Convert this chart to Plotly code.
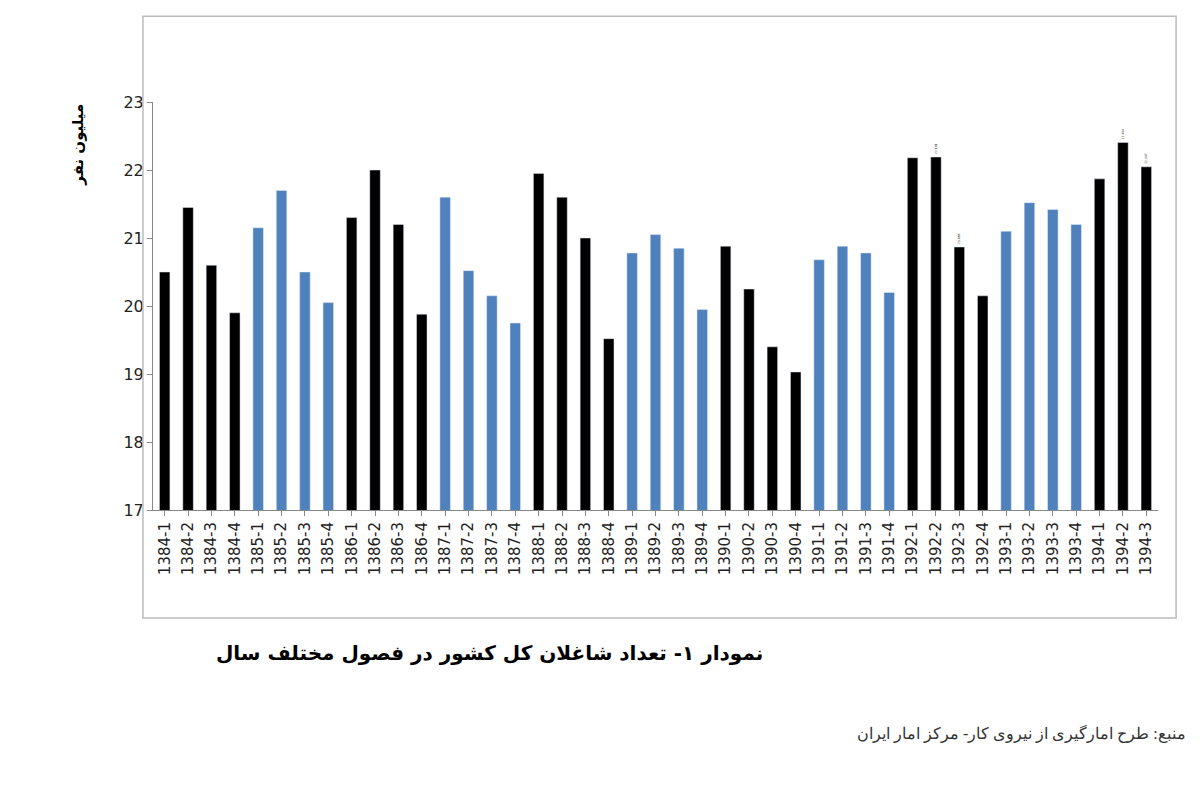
import plotly.graph_objects as go

years = list(range(1384, 1395))
categories = [f"{y}-{q}" for y in years for q in range(1, 5)][:-1]

values = [
    20.5, 21.45, 20.6, 19.9,
    21.15, 21.7, 20.5, 20.05,
    21.3, 22.0, 21.2, 19.88,
    21.6, 20.52, 20.15, 19.75,
    21.95, 21.6, 21.0, 19.52,
    20.78, 21.05, 20.85, 19.95,
    20.88, 20.25, 19.4, 19.03,
    20.68, 20.88, 20.78, 20.2,
    22.18, 22.191, 20.868, 20.15,
    21.1, 21.52, 21.42, 21.2,
    21.87, 22.404, 22.047,
]

labelled = ["1392-2", "1392-3", "1394-2", "1394-3"]

colors = ["#000000" if int(c[:4]) % 2 == 0 else "#4f81bd" for c in categories]
texts = [f"{v:.3f}" if c in labelled else "" for c, v in zip(categories, values)]

fig = go.Figure(
    go.Bar(
        x=categories,
        y=values,
        marker_color=colors,
        width=0.45,
        text=texts,
        textposition="outside",
        textangle=-90,
        textfont=dict(size=15, color="#222222"),
        cliponaxis=False,
    )
)

fig.update_layout(
    width=1200,
    height=800,
    paper_bgcolor="white",
    plot_bgcolor="white",
    margin=dict(l=145, r=50, t=94, b=298),
    showlegend=False,
    font=dict(family="DejaVu Sans", color="#222222"),
    shapes=[
        dict(type="rect", xref="paper", yref="paper",
             x0=-0.01, x1=1.018, y0=-0.265, y1=1.21,
             line=dict(color="#bbbbbb", width=1.5)),
    ],
    annotations=[
        dict(text="<b>میلیون نفر</b>", x=-0.075, y=1.0, xref="paper", yref="paper",
             textangle=-90, showarrow=False, xanchor="center", yanchor="top",
             font=dict(size=15, color="#000000", family="DejaVu Sans")),
        dict(text="<b>نمودار ۱- تعداد شاغلان کل کشور در فصول مختلف سال</b>",
             x=0.335, y=-0.385, xref="paper", yref="paper", showarrow=False,
             font=dict(size=20, color="#000000", family="DejaVu Sans")),
        dict(text="منبع: طرح امارگیری از نیروی کار- مرکز امار ایران",
             x=1.03, y=-0.575, xref="paper", yref="paper", showarrow=False,
             xanchor="right", font=dict(size=16, color="#333333",
                                       family="Liberation Serif")),
    ],
)

fig.update_yaxes(range=[17, 23], dtick=1, showgrid=False, showline=True,
                 linecolor="#888888", ticks="outside", ticklen=5,
                 tickcolor="#888888", tickfont=dict(size=16))
fig.update_xaxes(type="category", showline=True, linecolor="#888888",
                 ticks="outside", tickcolor="#888888", tickangle=-90,
                 tickfont=dict(size=15))

fig.write_html("out.html")
